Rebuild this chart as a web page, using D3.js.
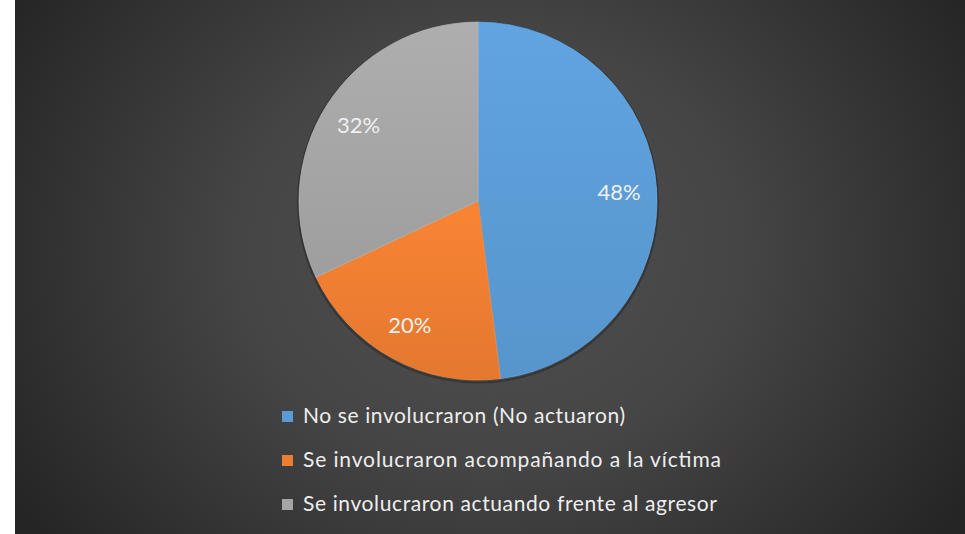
<!DOCTYPE html>
<html>
<head>
<meta charset="utf-8">
<script src="https://cdn.jsdelivr.net/npm/d3@7"></script>
<style>
  html, body { margin: 0; padding: 0; background: #ffffff; }
  svg { display: block; }
</style>
</head>
<body>
<svg id="chart" width="965" height="534"></svg>
<script>
// Share of respondents by how bystanders got involved
const categories = [
  "No se involucraron (No actuaron)",
  "Se involucraron acompañando a la víctima",
  "Se involucraron actuando frente al agresor"
];
const values = [48, 20, 32];
const valueLabels = ["48%", "20%", "32%"];
const colors = ["#5b9bd5", "#ed7d31", "#a5a5a5"];

const W = 965, H = 534;
const svg = d3.select("#chart");
const defs = svg.append("defs");

// Dark panel with a soft radial glow in the middle
const bg = defs.append("radialGradient")
  .attr("id", "bg").attr("gradientUnits", "userSpaceOnUse")
  .attr("cx", 490).attr("cy", 250).attr("r", 560)
  .attr("gradientTransform", "translate(490,250) scale(1,0.85) translate(-490,-250)");
bg.append("stop").attr("offset", "0%").attr("stop-color", "#505050");
bg.append("stop").attr("offset", "45%").attr("stop-color", "#454545");
bg.append("stop").attr("offset", "100%").attr("stop-color", "#252525");

svg.append("rect").attr("x", 15).attr("y", 0)
  .attr("width", W - 15).attr("height", H).attr("fill", "url(#bg)");

// Slight top-to-bottom shading on each slice
colors.forEach((c, i) => {
  const g = defs.append("linearGradient").attr("id", "sl" + i)
    .attr("x1", 0).attr("y1", 0).attr("x2", 0).attr("y2", 1);
  g.append("stop").attr("offset", "0%").attr("stop-color", d3.color(c).brighter(0.15));
  g.append("stop").attr("offset", "100%").attr("stop-color", d3.color(c).darker(0.12));
});

const cx = 478, cy = 201, R = 179;

const pie = d3.pie().sort(null).value(d => d.value);
const arcs = pie(categories.map((c, i) => ({ name: c, value: values[i], label: valueLabels[i], i })));
const arc = d3.arc().innerRadius(0).outerRadius(R);
const labelArc = d3.arc().innerRadius(R * 0.79).outerRadius(R * 0.79);

const gPie = svg.append("g").attr("transform", `translate(${cx},${cy})`);

// soft rim shadow under the pie
gPie.append("circle").attr("r", R + 1).attr("cy", 1.5)
  .attr("fill", "none").attr("stroke", "#1e1e1e").attr("stroke-opacity", 0.45).attr("stroke-width", 2);

gPie.selectAll("path.slice").data(arcs).enter().append("path")
  .attr("class", "slice")
  .attr("d", arc)
  .attr("fill", d => `url(#sl${d.data.i})`)
  .attr("stroke", d => d3.color(colors[d.data.i]).brighter(0.3))
  .attr("stroke-opacity", 0.7)
  .attr("stroke-width", 1);

gPie.selectAll("text.val").data(arcs).enter().append("text")
  .attr("class", "val")
  .attr("transform", d => {
    const [x, y] = labelArc.centroid(d);
    return `translate(${x},${y})`;
  })
  .attr("text-anchor", "middle")
  .attr("dy", "0.35em")
  .attr("font-family", "Lato, 'Open Sans', sans-serif")
  .attr("font-size", 22)
  .attr("fill", "#f0f0f0")
  .text(d => d.data.label);

// Legend, stacked below the pie
const legendY = d3.scalePoint().domain(categories).range([423, 511]);
const legendWidths = [322, 418, 414];
const gLeg = svg.append("g");
const rows = gLeg.selectAll("g").data(categories).enter().append("g")
  .attr("transform", d => `translate(0,${legendY(d)})`);
rows.append("rect")
  .attr("x", 282).attr("y", -12).attr("width", 11).attr("height", 11)
  .attr("fill", (d, i) => colors[i]);
rows.append("text")
  .attr("x", 303).attr("y", 0)
  .attr("font-family", "Lato, 'Open Sans', sans-serif")
  .attr("font-size", 21)
  .attr("fill", "#eeeeee")
  .attr("textLength", (d, i) => legendWidths[i])
  .attr("lengthAdjust", "spacing")
  .text(d => d);
</script>
</body>
</html>
